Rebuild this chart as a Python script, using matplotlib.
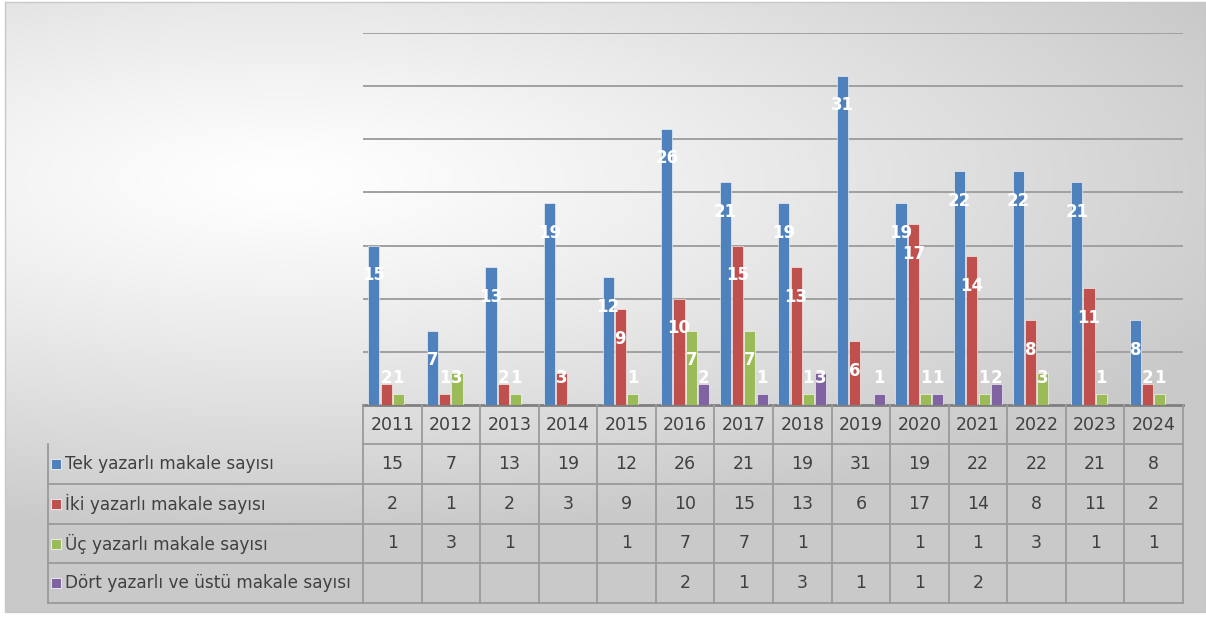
import matplotlib.pyplot as plt
import numpy as np

# yillara gore yazar sayisi
years = ["2011", "2012", "2013", "2014", "2015", "2016", "2017",
         "2018", "2019", "2020", "2021", "2022", "2023", "2024"]
tek = [15, 7, 13, 19, 12, 26, 21, 19, 31, 19, 22, 22, 21, 8]
iki = [2, 1, 2, 3, 9, 10, 15, 13, 6, 17, 14, 8, 11, 2]
uc = [1, 3, 1, None, 1, 7, 7, 1, None, 1, 1, 3, 1, 1]
dort = [None, None, None, None, None, 2, 1, 3, 1, 1, 2, None, None, None]

series_names = ["Tek yazarlı makale sayısı", "İki yazarlı makale sayısı",
                "Üç yazarlı makale sayısı", "Dört yazarlı ve üstü makale sayısı"]
series = [tek, iki, uc, dort]
colors = ["#4F81BD", "#C0504D", "#9BBB59", "#8064A2"]

W, H = 1206, 619
plt.rcParams["font.family"] = ["DejaVu Sans"]

fig = plt.figure(figsize=(W / 100, H / 100), dpi=100)
fig.patch.set_facecolor("white")

# background gradient
bg = fig.add_axes([0, 0, 1, 1], zorder=0)
bg.set_xlim(0, W)
bg.set_ylim(H, 0)
bg.axis("off")
gx, gy = np.meshgrid(np.arange(W), np.arange(H))
d = np.sqrt(((gx - 280) / 1050.0) ** 2 + ((gy - 180) / 360.0) ** 2)
v = 1 - 0.21 * np.clip(d, 0, 1) ** 1.2
img = np.dstack([v, v, v])
bg.imshow(img, extent=(5, W, 612, 2), aspect="auto", interpolation="bilinear")
bg.plot([5, W - 1, W - 1, 5, 5], [2, 2, 612, 612, 2], color="#C8C8C8", lw=1)

# plot area
left, right, top, base = 363, 1183, 33, 405
ax = fig.add_axes([left / W, (H - base) / H, (right - left) / W, (base - top) / H], zorder=2)
ax.patch.set_alpha(0)
n = len(years)
x = np.arange(n)
pitch = 0.21
width = 0.19
for k, (vals, c) in enumerate(zip(series, colors)):
    off = (k - 1.5) * pitch
    for i, val in enumerate(vals):
        if val is None:
            continue
        ax.bar(x[i] + off, val, width, color=c, edgecolor="#FFFFFF", linewidth=0.4, zorder=3)
        ax.text(x[i] + off, max(val - 2.8, 2.5), str(val), color="white", ha="center",
                va="center", fontsize=12, fontweight="bold", zorder=4)
ax.set_xlim(-0.5, n - 0.5)
ax.set_ylim(0, 35)
ax.set_yticks(np.arange(5, 36, 5))
ax.set_xticks([])
ax.tick_params(left=False, labelleft=False)
ax.grid(axis="y", color="#A0A0A0", lw=1.4)
ax.set_axisbelow(True)
for s in ax.spines.values():
    s.set_visible(False)

# data table
tb = fig.add_axes([0, 0, 1, 1], zorder=1)
tb.set_xlim(0, W)
tb.set_ylim(H, 0)
tb.axis("off")
cw = (right - left) / n
label_left = 48
row_edges = [405, 444, 484, 524, 563, 603]
grid_c = "#9A9A9A"
txt_c = "#404040"

tb.plot([left, right], [base, base], color="#7F7F7F", lw=2)
for r in range(1, len(row_edges)):
    x0 = label_left if r > 1 else left
    tb.plot([x0, right], [row_edges[r], row_edges[r]], color=grid_c, lw=1.3)
for j in range(n + 1):
    tb.plot([left + j * cw] * 2, [row_edges[0], row_edges[-1]], color=grid_c, lw=1.3)
tb.plot([label_left] * 2, [row_edges[1], row_edges[-1]], color=grid_c, lw=1.3)

for j, yr in enumerate(years):
    tb.text(left + (j + 0.5) * cw, (row_edges[0] + row_edges[1]) / 2, yr,
            ha="center", va="center", fontsize=12.5, color=txt_c)

for r, (name, vals, c) in enumerate(zip(series_names, series, colors)):
    yc = (row_edges[r + 1] + row_edges[r + 2]) / 2
    tb.plot([56], [yc], marker="s", ms=6.5, color=c, mec="#F4F4F4", mew=0.6)
    tb.text(65, yc, name, ha="left", va="center", fontsize=12.2, color=txt_c)
    for j, val in enumerate(vals):
        if val is None:
            continue
        tb.text(left + (j + 0.5) * cw, yc, str(val), ha="center", va="center",
                fontsize=12.5, color=txt_c)

fig.savefig("out.png", dpi=100)
